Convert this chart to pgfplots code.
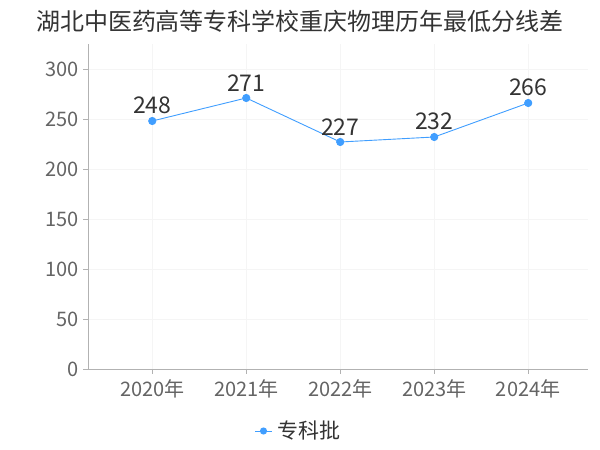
\documentclass[border=0pt]{standalone}
\usepackage{pgfplots}
\pgfplotsset{compat=1.18}
\usepackage{fontspec}
\setmainfont{Noto Sans CJK SC}
\definecolor{lineblue}{RGB}{64,158,255}
\definecolor{labgray}{RGB}{100,100,100}
\definecolor{txtdark}{RGB}{51,51,51}
\begin{document}
\begin{tikzpicture}[x=1pt,y=1pt]
\useasboundingbox (0,0) rectangle (600,450);
\begin{axis}[
  at={(94,81)}, anchor=south west,
  scale only axis,
  width=500pt, height=325pt,
  xmin=-0.68, xmax=4.64,
  ymin=0, ymax=325,
  xtick={0,1,2,3,4},
  xticklabels={2020年,2021年,2022年,2023年,2024年},
  ytick={0,50,100,150,200,250,300},
  axis x line*=bottom, axis y line*=left,
  axis line style={draw=gray!60},
  tick style={draw=gray!60},
  tick align=outside,
  major tick length=5pt,
  grid=major,
  major grid style={draw=gray!8},
  tick label style={font=\fontsize{20}{22}\selectfont, text=labgray},
  /pgf/number format/assume math mode=true,
  xticklabel style={yshift=-2pt},
  yticklabel style={xshift=-1pt},
  clip=false,
  nodes near coords,
  every node near coord/.append style={font=\fontsize{23}{25}\selectfont, text=txtdark, yshift=3pt},
]
\addplot[color=lineblue, line width=0.9pt, mark=*, mark size=3.6pt, mark options={fill=lineblue, draw=lineblue}]
  coordinates {(0,248) (1,271) (2,227) (3,232) (4,266)};
\end{axis}
\node[font=\fontsize{24}{28}\selectfont, text=txtdark] at (300,429) {湖北中医药高等专科学校重庆物理历年最低分线差};
\draw[lineblue, line width=0.9pt] (255,19) -- (272,19);
\fill[lineblue] (263.5,19) circle (3.6pt);
\node[anchor=west, font=\fontsize{21}{24}\selectfont, text=txtdark] at (274,19) {专科批};
\end{tikzpicture}
\end{document}
